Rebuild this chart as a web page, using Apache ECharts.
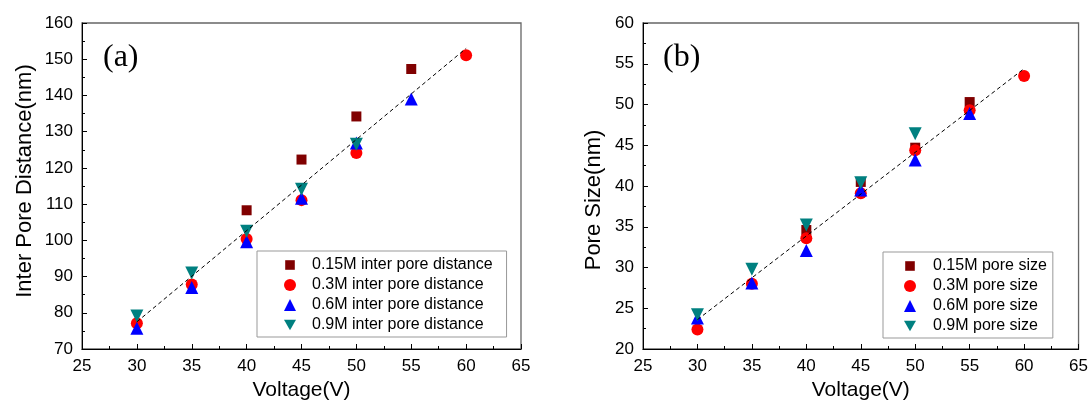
<!DOCTYPE html>
<html><head><meta charset="utf-8">
<script src="https://cdn.jsdelivr.net/npm/echarts@6/dist/echarts.min.js"></script>
<style>html,body{margin:0;padding:0;background:#fff}#c{width:1091px;height:411px}</style>
</head><body><div id="c"></div>
<script>
// ---- data ----
const seriesNamesA = ['0.15M inter pore distance','0.3M inter pore distance','0.6M inter pore distance','0.9M inter pore distance'];
const seriesNamesB = ['0.15M pore size','0.3M pore size','0.6M pore size','0.9M pore size'];
const a015 = [[40,108.3],[45,122.3],[50,134.2],[55,147.3]];
const a03  = [[30,77.1],[35,87.8],[40,100.4],[45,111.1],[50,124.1],[60,151.1]];
const a06  = [[30,75.7],[35,87.0],[40,99.6],[45,111.6],[50,126.9],[55,139.0]];
const a09  = [[30,79.1],[35,91.0],[40,102.5],[45,114.1],[50,126.5]];
const aFit = [[30,77.5],[60,153.0]];
const b015 = [[40,34.6],[45,40.5],[50,44.7],[55,50.3]];
const b03  = [[30,22.4],[35,28.0],[40,33.6],[45,39.1],[50,44.4],[55,49.3],[60,53.5]];
const b06  = [[30,23.8],[35,28.1],[40,32.1],[45,39.5],[50,43.2],[55,48.9]];
const b09  = [[30,24.2],[35,29.8],[40,35.2],[45,40.4],[50,46.4]];
const bFit = [[30,23.6],[60,54.4]];
const xTicks = {min:25, max:65, interval:5};
const yTicksA = {min:70, max:160, interval:10};
const yTicksB = {min:20, max:60, interval:5};
// ---- chart ----
const font = 'Arial, "Liberation Sans", sans-serif';
const colors = ['#800000','#ff0000','#0000ff','#008080'];
const symbols = ['rect','circle','triangle','path://M0,0L10,0L5,8.7Z'];
const legendIcons = ['path://M0,0M12,12M1.2,1.2L10.8,1.2L10.8,10.8L1.2,10.8Z','circle','triangle','path://M0,0L10,0L5,8.7Z'];
const sizes = [10,12,13,13];
function xAx(gi){
  return {gridIndex:gi, type:'value', min:xTicks.min, max:xTicks.max, interval:xTicks.interval,
    name:'Voltage(V)', nameLocation:'middle', nameGap:30,
    nameTextStyle:{fontFamily:font, fontSize:21, color:'#000'},
    axisLine:{lineStyle:{color:'#000', width:1}},
    axisTick:{inside:true, length:5, lineStyle:{color:'#000'}},
    minorTick:{show:true, splitNumber:2, length:3, lineStyle:{color:'#000'}},
    axisLabel:{fontFamily:font, fontSize:17, color:'#000', margin:9},
    splitLine:{show:false}};
}
function yAx(gi, t, name, gap, pad){
  return {gridIndex:gi, type:'value', min:t.min, max:t.max, interval:t.interval,
    name:name, nameLocation:'middle', nameGap:gap,
    nameTextStyle:{fontFamily:font, fontSize:22, color:'#000', padding:pad},
    axisLine:{lineStyle:{color:'#000', width:1}},
    axisTick:{inside:true, length:5, lineStyle:{color:'#000'}},
    minorTick:{show:true, splitNumber:2, length:3, lineStyle:{color:'#000'}},
    axisLabel:{fontFamily:font, fontSize:17, color:'#000', margin:9},
    splitLine:{show:false}};
}
function scat(name, data, i, gi){
  return {type:'scatter', name:name, xAxisIndex:gi, yAxisIndex:gi, data:data,
    symbol:symbols[i], symbolSize:sizes[i], itemStyle:{color:colors[i], opacity:1}, z:2+i};
}
function fit(data, gi){
  return {type:'line', name:'fit'+gi, xAxisIndex:gi, yAxisIndex:gi, data:data, symbol:'none', silent:true,
    lineStyle:{color:'#000', width:1, type:[4,3]}, z:10};
}
function legend(names, left, top, padL, padR, textPad){
  return {orient:'vertical', left:left, top:top,
    data:names.map((n,i)=>({name:n, icon:legendIcons[i]})),
    itemWidth:12, itemHeight:12, itemGap:4,
    padding:[6,padR,4,padL], backgroundColor:'#fff', borderColor:'#999', borderWidth:1,
    textStyle:{fontFamily:font, fontSize:16, lineHeight:16, color:'#000', padding:[0,0,0,textPad]},
    selectedMode:false};
}
const option = {
  animation:false,
  grid:[
    {left:82, right:570, top:23, bottom:62, show:true, borderColor:'#666', borderWidth:1.3, backgroundColor:'transparent'},
    {left:643, right:10, top:23, bottom:62, show:true, borderColor:'#666', borderWidth:1.3, backgroundColor:'transparent'}
  ],
  xAxis:[xAx(0), xAx(1)],
  yAxis:[yAx(0, yTicksA, 'Inter Pore Distance(nm)', 46, [0,0,0,10]), yAx(1, yTicksB, 'Pore Size(nm)', 38, [0,28,0,0])],
  legend:[legend(seriesNamesA, 257, 251, 27, 14, 11), legend(seriesNamesB, 883, 252, 21, 6, 12)],
  graphic:[
    {type:'text', left:103, top:42, style:{text:'(a)', font:'32px "Liberation Serif", "Times New Roman", serif', fill:'#000'}},
    {type:'text', left:663, top:42, style:{text:'(b)', font:'32px "Liberation Serif", "Times New Roman", serif', fill:'#000'}}
  ],
  series:[
    scat(seriesNamesA[0], a015, 0, 0), scat(seriesNamesA[1], a03, 1, 0), scat(seriesNamesA[2], a06, 2, 0), scat(seriesNamesA[3], a09, 3, 0), fit(aFit, 0),
    scat(seriesNamesB[0], b015, 0, 1), scat(seriesNamesB[1], b03, 1, 1), scat(seriesNamesB[2], b06, 2, 1), scat(seriesNamesB[3], b09, 3, 1), fit(bFit, 1)
  ]
};
const chart = echarts.init(document.getElementById('c'), null, {renderer:'canvas'});
chart.setOption(option);
</script></body></html>
